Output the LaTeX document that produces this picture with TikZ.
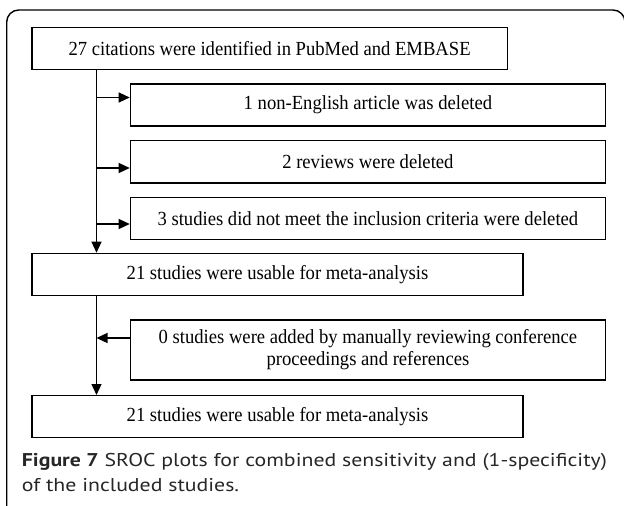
\documentclass[tikz,border=0pt]{standalone}
\usepackage{fontspec}
\setmainfont{Liberation Serif}
\newfontfamily\capfont{PT Sans}
\usetikzlibrary{arrows.meta}
\definecolor{capgray}{HTML}{262626}
\newlength\wA
\newlength\wB
\newcommand\srf{\fontsize{20}{21.7}\selectfont}
\newcommand\cpf{\capfont\fontsize{18.5}{25}\selectfont}
\newcommand\sx[1]{\scalebox{\hsA}[1]{#1}}
\newcommand\cx[1]{\scalebox{\hsB}[1]{#1}}
\begin{document}
\settowidth\wA{\srf 3 studies did not meet the inclusion criteria were deleted}%
\pgfmathsetmacro\hsA{420.6pt/\wA}%
\settowidth\wB{\cpf\textbf{Figure 7} SROC plots for combined sensitivity and (1-specificity)}%
\pgfmathsetmacro\hsB{585pt/\wB}%
\begin{tikzpicture}[x=1pt,y=-1pt,
  box/.style={draw=black, line width=1.2pt, inner sep=0pt, anchor=north west,
    font=\srf, align=center},
  conn/.style={draw=black, line width=1.2pt, -{Triangle[length=11pt,width=10pt]}},
  capt/.style={anchor=base west, inner sep=0pt, text=capgray, font=\cpf}]
\useasboundingbox (0,0) rectangle (624,506);
\begin{scope}
  \clip (0,0) rectangle (624,506);
  \draw[line width=1.4pt, rounded corners=12pt] (6.7,10) rectangle (625,535);
\end{scope}
\node[box, minimum width=475.2pt, minimum height=42.3pt] (b1) at (31.4,26.7)
  {\sx{27 citations were identified in PubMed and EMBASE}};
\node[box, minimum width=475.2pt, minimum height=42pt] (b2) at (129.7,83.3)
  {\sx{1 non-English article was deleted}};
\node[box, minimum width=475.2pt, minimum height=42.3pt] (b3) at (129.7,140)
  {\sx{2 reviews were deleted}};
\node[box, minimum width=475.2pt, minimum height=42pt] (b4) at (129.7,196.7)
  {\sx{3 studies did not meet the inclusion criteria were deleted}};
\node[box, minimum width=491pt, minimum height=42.3pt] (b5) at (31.4,252.7)
  {\sx{21 studies were usable for meta-analysis}};
\node[box, minimum width=475.2pt, minimum height=60pt] (b6) at (129.7,319.3)
  {\sx{0 studies were added by manually reviewing conference}\\\sx{proceedings and references}};
\node[box, minimum width=491pt, minimum height=41.7pt] (b7) at (31.4,395)
  {\sx{21 studies were usable for meta-analysis}};
\coordinate (v) at (96.5,0);
\coordinate (t2) at (96.5,97.5);
\coordinate (t3) at (96.5,168);
\coordinate (t4) at (96.5,224);
\coordinate (t6) at (96.5,338);
\draw[conn] (b1.south -| v) -- (b5.north -| v);
\draw[conn] (b5.south -| v) -- (b7.north -| v);
\draw[conn] (t2) -- (t2 -| b2.west);
\draw[conn] (t3) -- (t3 -| b3.west);
\draw[conn] (t4) -- (t4 -| b4.west);
\draw[conn] (t6 -| b6.west) -- (t6);
\node[capt] (c1) at (21.7,466) {\cx{\textbf{Figure 7} SROC plots for combined sensitivity and (1-specificity)}};
\node[capt] (c2) at (21.7,491.5) {\cx{of the included studies.}};
\end{tikzpicture}
\end{document}
